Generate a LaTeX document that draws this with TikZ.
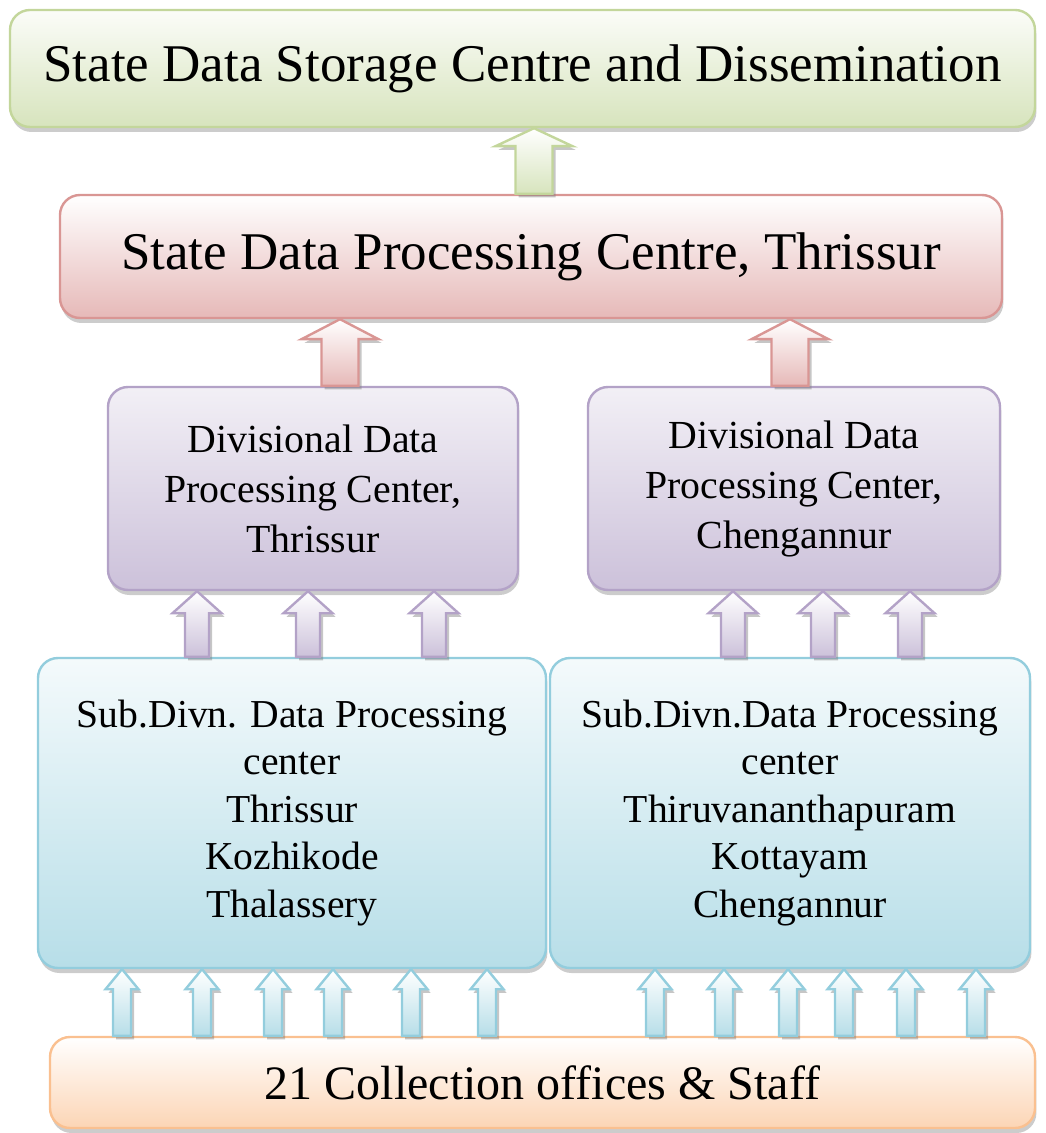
\documentclass[tikz,border=0pt]{standalone}
\usepackage{fontspec}
\setmainfont{Liberation Serif}
\usetikzlibrary{shadows,calc}

\definecolor{greenF}{HTML}{D7E4BD}
\definecolor{greenD}{HTML}{C3D69B}
\definecolor{redF}{HTML}{E6B9B8}
\definecolor{redD}{HTML}{D99694}
\definecolor{purpF}{HTML}{CCC1DA}
\definecolor{purpD}{HTML}{B3A2C7}
\definecolor{blueF}{HTML}{B7DEE8}
\definecolor{blueD}{HTML}{93CDDD}
\definecolor{orngF}{HTML}{FCD5B5}
\definecolor{orngD}{HTML}{FAC090}

\newcommand\bigfont{\fontsize{26.5}{30}\selectfont}
\newcommand\midfont{\fontsize{19.9}{25}\selectfont}
\newcommand\subfont{\fontsize{19.8}{23.75}\selectfont}
\newcommand\collfont{\fontsize{24}{28}\selectfont}

% fat upward arrow: style, lower node, upper node, x position
\newcommand\blockarr[4]{%
  \edef\arrx{#4}%
  \path[#1] let \p1=(#2.north), \p2=(#3.south), \p3=(\arrx,0) in
    (\x3-\sw,\y1) -- (\x3-\sw,\y2-\hl) -- (\x3-\hw,\y2-\hl) -- (\x3,\y2)
    -- (\x3+\hw,\y2-\hl) -- (\x3+\sw,\y2-\hl) -- (\x3+\sw,\y1) -- cycle;}

\begin{document}
\begin{tikzpicture}[x=0.5pt, y=-0.5pt,
  box/.style={draw, rounded corners=10pt, line width=1.2pt, align=center, inner sep=0pt,
    drop shadow={shadow xshift=0.7pt, shadow yshift=-2.5pt, opacity=0.4}},
  greenbox/.style={box, draw=greenD, top color=greenF!10!white, bottom color=greenF},
  redbox/.style={box, draw=redD, top color=white, bottom color=redF},
  purpbox/.style={box, draw=purpD, top color=purpF!25!white, bottom color=purpF},
  bluebox/.style={box, draw=blueD, top color=blueF!15!white, bottom color=blueF},
  orngbox/.style={box, draw=orngD, top color=white, bottom color=orngF},
  uparr/.style={line width=1.2pt, top color=white,
    drop shadow={shadow xshift=1.5pt, shadow yshift=-1.8pt, opacity=0.45}},
  greenarr/.style={uparr, draw=greenD, bottom color=greenF,
    /utils/exec={\def\sw{9.25pt}\def\hw{19.25pt}\def\hl{9pt}}},
  redarr/.style={uparr, draw=redD, bottom color=redF,
    /utils/exec={\def\sw{9.25pt}\def\hw{19.25pt}\def\hl{10pt}}},
  purparr/.style={uparr, draw=purpD, bottom color=purpF,
    /utils/exec={\def\sw{6pt}\def\hw{12.25pt}\def\hl{11pt}}},
  bluearr/.style={uparr, draw=blueD, bottom color=blueF,
    /utils/exec={\def\sw{4.5pt}\def\hw{8.25pt}\def\hl{10pt}}}]
\useasboundingbox (0,0) rectangle (1045,1133);

% boxes
\node[greenbox, minimum width=512.5pt, minimum height=58.5pt, font=\bigfont] (store) at (522.5,68.5)
  {State Data Storage Centre and Dissemination};
\node[redbox, minimum width=471pt, minimum height=61.5pt, font=\bigfont] (proc) at (531,256.5)
  {State Data Processing Centre, Thrissur};
\node[purpbox, minimum width=205pt, minimum height=101.5pt, font=\midfont] (divA) at (313,488.5)
  {Divisional Data\\Processing Center,\\Thrissur};
\node[purpbox, minimum width=206pt, minimum height=101.5pt, font=\midfont] (divB) at (794,488.5)
  {Divisional Data\\Processing Center,\\Chengannur};
\node[bluebox, minimum width=254pt, minimum height=155pt, font=\subfont] (subA) at (292,813)
  {Sub.Divn. Data Processing\\center\\Thrissur\\Kozhikode\\Thalassery};
\node[bluebox, minimum width=240pt, minimum height=155pt, font=\subfont] (subB) at (790,813)
  {Sub.Divn.Data Processing\\center\\Thiruvananthapuram\\Kottayam\\Chengannur};
\node[orngbox, minimum width=492.5pt, minimum height=45.5pt, font=\collfont] (coll) at (542.5,1082.5)
  {21 Collection offices \& Staff};

% arrows
\blockarr{greenarr}{proc}{store}{534}
\blockarr{redarr}{divA}{proc}{340}
\blockarr{redarr}{divB}{proc}{790}
\foreach \ax in {197,308,434} {\blockarr{purparr}{subA}{divA}{\ax}}
\foreach \ax in {733,823,910} {\blockarr{purparr}{subB}{divB}{\ax}}
\foreach \ax in {122,202,273,333,411,487} {\blockarr{bluearr}{coll}{subA}{\ax}}
\foreach \ax in {655,724,788,844,906,976} {\blockarr{bluearr}{coll}{subB}{\ax}}
\end{tikzpicture}
\end{document}
